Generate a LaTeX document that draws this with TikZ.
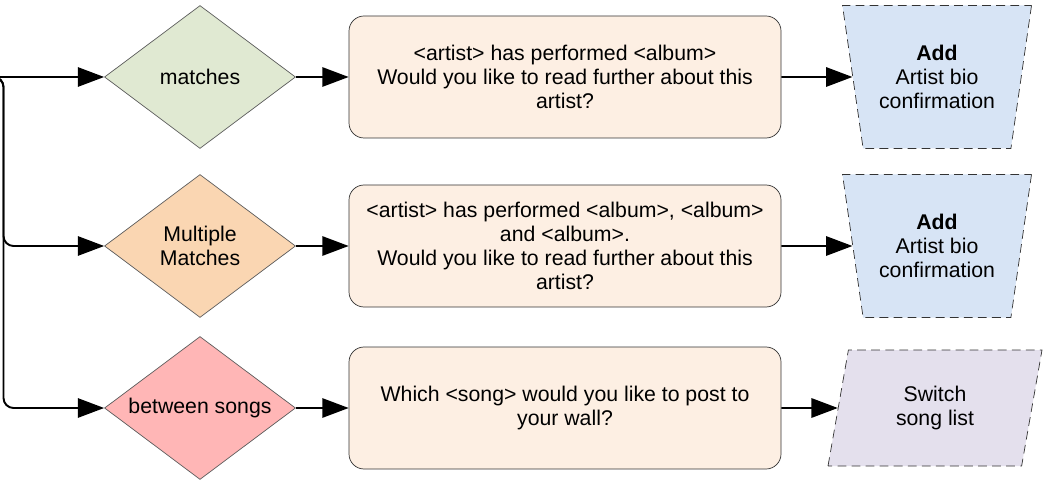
\documentclass[tikz,border=0pt]{standalone}
\usepackage{fontspec}
\setmainfont{Liberation Sans}
\usetikzlibrary{positioning, arrows.meta, shapes.geometric}
\definecolor{cmatch}{RGB}{224,233,210}
\definecolor{cmulti}{RGB}{250,214,178}
\definecolor{cbetween}{RGB}{255,182,182}
\definecolor{cmsg}{RGB}{253,239,227}
\definecolor{cadd}{RGB}{215,228,245}
\definecolor{clist}{RGB}{228,224,237}
\definecolor{cline}{RGB}{51,51,51}

\begin{document}
\begin{tikzpicture}[font=\fontsize{12.1}{13.6}\selectfont, >={Triangle[length=15pt, width=11pt]},
    decision/.style={diamond, draw=cline!80, inner sep=0pt, shape aspect=1.336,
      minimum width=3.82cm, minimum height=2.86cm, align=center},
    msgbox/.style={draw=cline, rounded corners=0.3cm, fill=cmsg,
      minimum width=8.64cm, minimum height=2.44cm, align=center},
    addshape/.style={trapezium, trapezium stretches body, shape border rotate=180,
      trapezium left angle=72, trapezium right angle=72, draw=cline, dashed,
      dash pattern=on 5pt off 3pt, fill=cadd, minimum width=3.78cm, minimum height=2.86cm,
      inner sep=0pt, align=center},
    listshape/.style={trapezium, trapezium stretches body,
      trapezium left angle=65, trapezium right angle=115, draw=cline, dashed,
      dash pattern=on 5pt off 3pt, fill=clist, minimum width=4.28cm, minimum height=2.32cm,
      inner sep=0pt, align=center},
    flow/.style={->, line width=1.1pt}]

  \useasboundingbox (0,0) rectangle (20.88,-9.62);

  % --- decisiones (izquierda) ---
  \node[decision, fill=cmatch] (dmatch) at (4.0,-1.54) {matches};
  \node[decision, fill=cmulti] (dmulti) at (4.0,-4.92) {Multiple\\Matches};
  \node[decision, fill=cbetween] (dbetween) at (4.0,-8.16) {between songs};

  % --- mensajes ---
  \node[msgbox] (mmatch) at (11.3,-1.54)
        {<artist> has performed <album>\\Would you like to read further about this\\artist?};
  \node[msgbox] (mmulti) at (11.3,-4.92)
        {<artist> has performed <album>, <album>\\and <album>.\\Would you like to read further about this\\artist?};
  \node[msgbox] (mbetween) at (11.3,-8.16)
        {Which <song> would you like to post to\\your wall?};

  % --- acciones (derecha) ---
  \node[addshape] (amatch) at (18.74,-1.54) {\textbf{Add}\\Artist bio\\confirmation};
  \node[addshape] (amulti) at (18.74,-4.92) {\textbf{Add}\\Artist bio\\confirmation};
  \node[listshape] (abetween) at (18.70,-8.16) {Switch\\song list};

  % --- tronco de entrada ---
  \coordinate (src) at (-0.3,-1.54);
  \coordinate (trunk) at (0.07,-1.54);
  \draw[flow] (src) -- (dmatch);
  \draw[flow, rounded corners=0.2cm] (src) -- (trunk) |- (dmulti.west);
  \draw[flow, rounded corners=0.2cm] (src) -- (trunk) |- (dbetween.west);

  \draw[flow] (dmatch) -- (mmatch);
  \draw[flow] (dmulti) -- (mmulti);
  \draw[flow] (dbetween) -- (mbetween);

  \draw[flow] (mmatch) -- (amatch);
  \draw[flow] (mmulti) -- (amulti);
  \draw[flow] (mbetween) -- (abetween);
\end{tikzpicture}
\end{document}
